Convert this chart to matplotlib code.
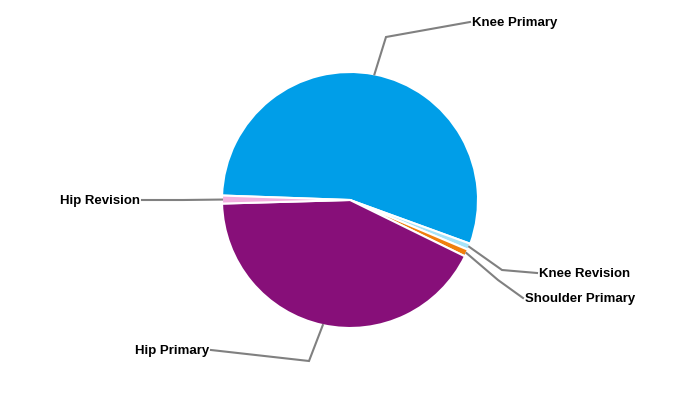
import numpy as np
import matplotlib
matplotlib.use("Agg")
import matplotlib.pyplot as plt

categories = ["Knee Primary", "Knee Revision", "Shoulder Primary", "Hip Primary", "Hip Revision"]
values = [55.0, 0.8, 0.9, 42.3, 1.0]
colors = ["#009EE8", "#A6E3F8", "#F07F0E", "#870F79", "#F2B0DE"]

# layout: elbow pixel position, label line-end pixel position, alignment
label_layout = {
    "Knee Primary": ((386, 37), (470, 22), "left"),
    "Knee Revision": ((502, 270), (537, 273), "left"),
    "Shoulder Primary": ((498, 280), (523, 298), "left"),
    "Hip Primary": ((309, 361), (211, 350), "right"),
    "Hip Revision": ((183, 200), (142, 200), "right"),
}

W, H = 700, 400
CX, CY, R = 350, 200, 128
plt.rcParams['font.family'] = ['Liberation Sans', 'DejaVu Sans']
fig = plt.figure(figsize=(7, 4), dpi=100)
ax = fig.add_axes([0, 0, 1, 1])

def px(p):
    return ((p[0] - CX) / R, (CY - p[1]) / R)

start = 178
wedges, _ = ax.pie(values, colors=colors, startangle=start, counterclock=False,
                   radius=1.0, center=(0, 0), frame=False,
                   wedgeprops=dict(edgecolor="white", linewidth=1.5))
ax.set_xlim(-CX / R, (W - CX) / R)
ax.set_ylim(-(H - CY) / R, CY / R)
ax.set_aspect("equal")
ax.axis("off")

for w, name in zip(wedges, categories):
    mid = np.deg2rad((w.theta1 + w.theta2) / 2)
    p0 = (np.cos(mid), np.sin(mid))
    elbow, end, ha = label_layout[name]
    p1 = px(elbow)
    p2 = px(end)
    ax.plot([p0[0], p1[0], p2[0]], [p0[1], p1[1], p2[1]], color="#808080", lw=1.5,
            solid_joinstyle="miter", zorder=1)
    off = 0.012 if ha == "left" else -0.012
    ax.text(p2[0] + off, p2[1] - 0.008, name, ha=ha, va="center", fontsize=9.5,
            fontweight="bold", color="black")

fig.savefig("out.png", dpi=100, facecolor="white")
